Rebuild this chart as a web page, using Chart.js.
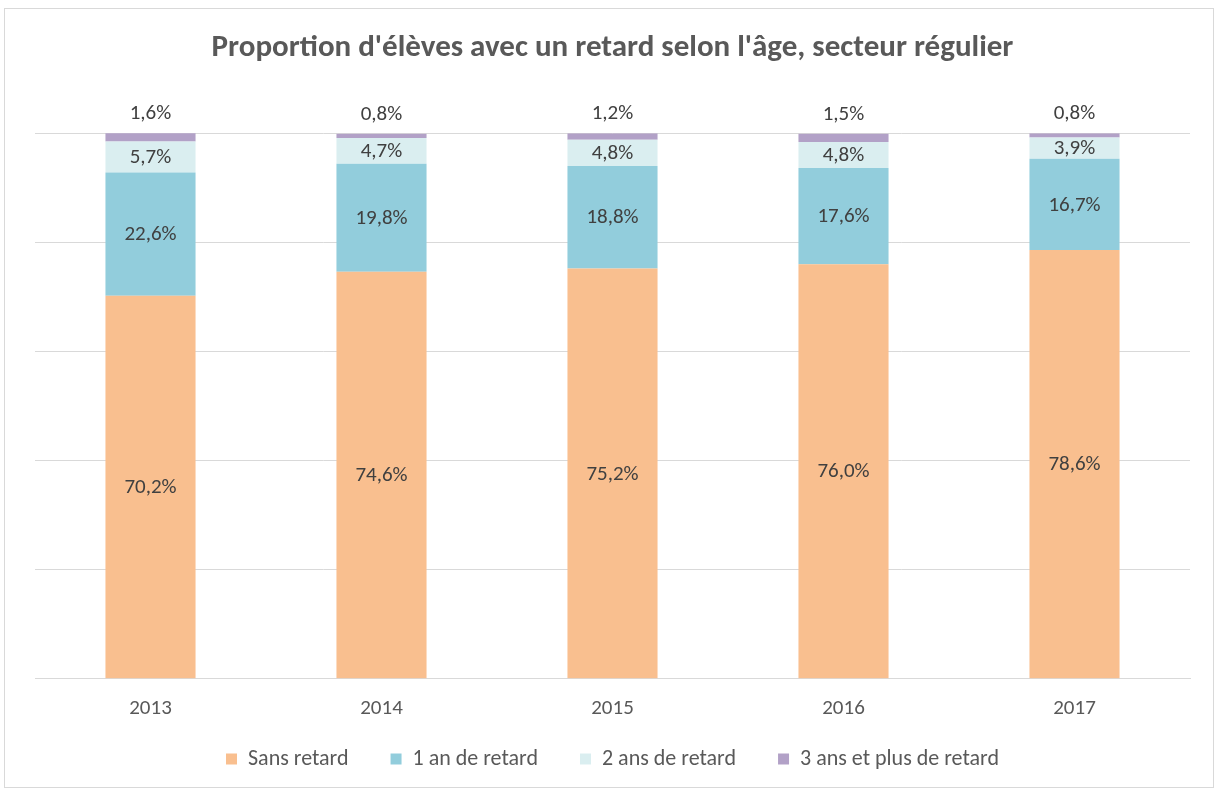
<!DOCTYPE html>
<html lang="fr">
<head>
<meta charset="utf-8">
<script src="https://cdn.jsdelivr.net/npm/chart.js@4"></script>
<style>
    html, body { margin: 0; padding: 0; background: #fff; }
    #wrap { position: relative; width: 1216px; height: 791px; }
    #cadre { position: absolute; left: 4px; top: 8px; width: 1210px; height: 780px; border: 1px solid #d9d9d9; box-sizing: border-box; pointer-events: none; }
</style>
</head>
<body>
<div id="wrap">
    <canvas id="retardChart" width="1216" height="791"></canvas>
    <div id="cadre"></div>
</div>
<script>
// --- DONNÉES ---
const annees = ["2013", "2014", "2015", "2016", "2017"];
const sansRetard = [70.2, 74.6, 75.2, 76.0, 78.6];
const unAn = [22.6, 19.8, 18.8, 17.6, 16.7];
const deuxAns = [5.7, 4.7, 4.8, 4.8, 3.9];
const troisAnsPlus = [1.6, 0.8, 1.2, 1.5, 0.8];

const police = "Carlito, 'Liberation Sans', sans-serif";
const fmt = (v) => v.toFixed(1).replace('.', ',') + '%';

// étiquettes de données (pas de plugin datalabels dispo)
const etiquettes = {
    id: 'etiquettes',
    afterDatasetsDraw(chart) {
        const ctx = chart.ctx;
        ctx.save();
        ctx.font = "21px " + police;
        ctx.fillStyle = '#404040';
        ctx.textAlign = 'center';
        ctx.textBaseline = 'middle';
        const nb = chart.data.datasets.length;
        chart.data.datasets.forEach((ds, i) => {
            chart.getDatasetMeta(i).data.forEach((bar, j) => {
                const v = ds.data[j];
                if (i === nb - 1) {
                    ctx.fillText(fmt(v), bar.x, bar.y - 19);
                } else {
                    ctx.fillText(fmt(v), bar.x, (bar.y + bar.base) / 2 + 1);
                }
            });
        });
        ctx.restore();
    }
};

// légende : hauteur fixe et remontée (le padding horizontal la gonfle sinon)
const legendeFixe = {
    id: 'legendeFixe',
    afterInit(chart) {
        const lg = chart.legend;
        const fitOrig = lg.fit.bind(lg);
        lg.fit = function () { fitOrig(); this.height = 66; };
    },
    afterLayout(chart) {
        chart.legend.top -= 32;
        chart.legend.bottom -= 32;
    }
};

new Chart(document.getElementById('retardChart'), {
    type: 'bar',
    data: {
        labels: annees,
        datasets: [
            { label: 'Sans retard', data: sansRetard, backgroundColor: '#F9BF8F' },
            { label: '1 an de retard', data: unAn, backgroundColor: '#92CDDC' },
            { label: '2 ans de retard', data: deuxAns, backgroundColor: '#DAEEF0' },
            { label: '3 ans et plus de retard', data: troisAnsPlus, backgroundColor: '#B2A1C7' }
        ]
    },
    options: {
        responsive: false,
        animation: false,
        layout: { padding: { left: 35, right: 26, top: 30, bottom: -13 } },
        datasets: { bar: { barPercentage: 0.39, categoryPercentage: 1 } },
        plugins: {
            title: {
                display: true,
                text: "Proportion d'élèves avec un retard selon l'âge, secteur régulier",
                color: '#595959',
                font: { family: police, size: 31, weight: 'bold' },
                padding: { top: 0, bottom: 66 }
            },
            legend: {
                position: 'bottom',
                labels: {
                    color: '#595959',
                    font: { family: police, size: 22 },
                    boxWidth: 11,
                    boxHeight: 11,
                    padding: 42
                }
            },
            tooltip: { enabled: false }
        },
        scales: {
            x: {
                stacked: true,
                grid: { display: false, drawTicks: false },
                border: { color: '#d9d9d9' },
                ticks: { color: '#595959', font: { family: police, size: 21 }, padding: 17 }
            },
            y: {
                stacked: true,
                min: 0,
                max: 100,
                ticks: { display: false, stepSize: 20 },
                grid: { color: '#d9d9d9', drawTicks: false },
                border: { display: false }
            }
        }
    },
    plugins: [etiquettes, legendeFixe]
});
</script>
</body>
</html>
